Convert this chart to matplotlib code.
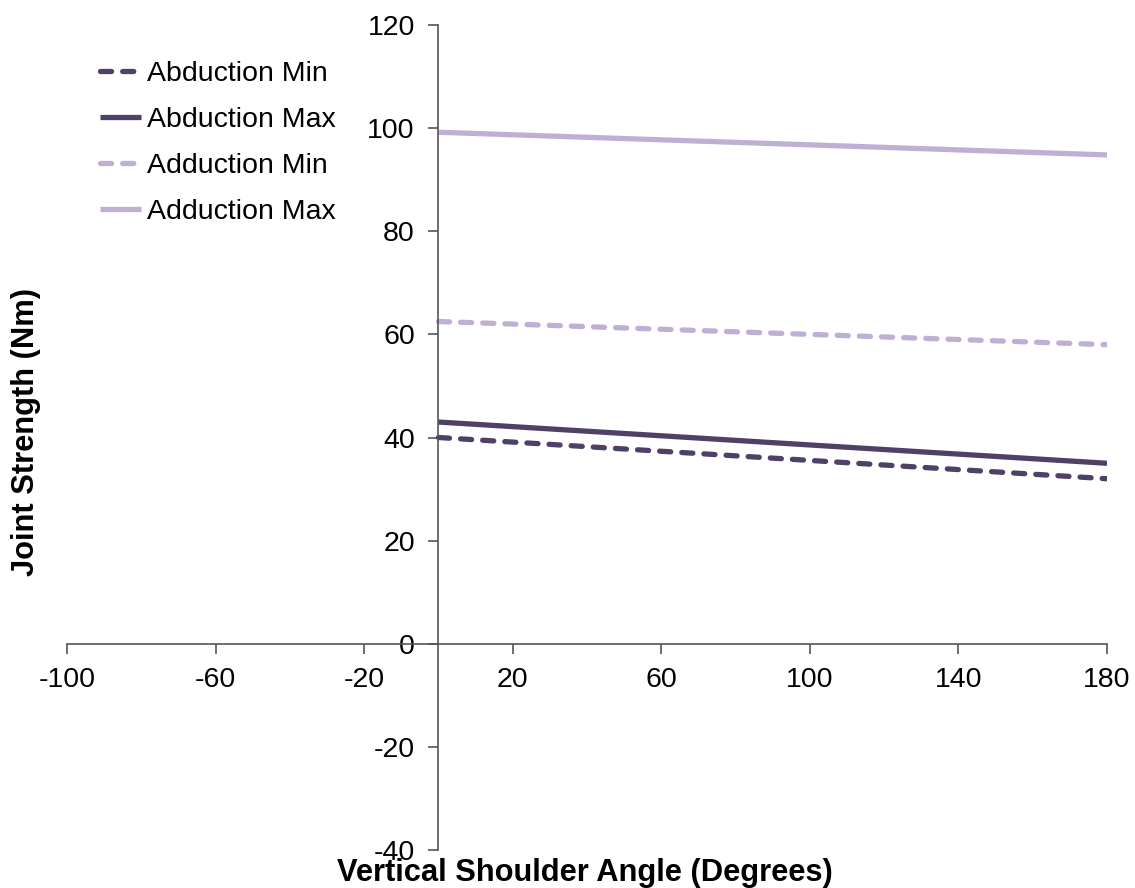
import matplotlib
matplotlib.use("Agg")
import matplotlib.pyplot as plt

plt.rcParams['font.family'] = ['Liberation Sans', 'DejaVu Sans']
plt.rcParams['axes.unicode_minus'] = False

# Joint strength vs vertical shoulder angle
angles = [0, 180]
abduction_min = [40.0, 32.0]
abduction_max = [43.0, 35.0]
adduction_min = [62.5, 58.0]
adduction_max = [99.2, 94.8]

x_ticks = [-100, -60, -20, 20, 60, 100, 140, 180]
y_ticks = [-40, -20, 0, 20, 40, 60, 80, 100, 120]

dark = '#4F4068'
light = '#C0AFD4'

fig = plt.figure(figsize=(11.35, 8.88), dpi=100)
ax = fig.add_axes([67 / 1135, 1 - 850 / 888, (1107 - 67) / 1135, (850 - 25) / 888])

lw = 3.8
ax.plot(angles, abduction_min, color=dark, lw=lw, dashes=[2.1, 2.1],
        dash_capstyle='round', label='Abduction Min')
ax.plot(angles, abduction_max, color=dark, lw=lw, solid_capstyle='butt',
        label='Abduction Max')
ax.plot(angles, adduction_min, color=light, lw=lw, dashes=[2.1, 2.1],
        dash_capstyle='round', label='Adduction Min')
ax.plot(angles, adduction_max, color=light, lw=lw, solid_capstyle='butt',
        label='Adduction Max')

ax.set_xlim(-100, 180)
ax.set_ylim(-40, 120)
ax.set_xticks(x_ticks)
ax.set_yticks(y_ticks)

ax.spines['left'].set_position(('data', 0))
ax.spines['bottom'].set_position(('data', 0))
ax.spines['top'].set_visible(False)
ax.spines['right'].set_visible(False)
for s in ('left', 'bottom'):
    ax.spines[s].set_color('#555555')
    ax.spines[s].set_linewidth(1.2)

ax.tick_params(axis='both', direction='out', length=7, width=1.2,
               color='#555555', labelsize=20.5)
ax.tick_params(axis='y', pad=10)
ax.tick_params(axis='x', pad=10)

ax.legend(loc='upper left', bbox_to_anchor=(100 / 1135, 1 - 61 / 888),
          bbox_transform=fig.transFigure, frameon=False, fontsize=20.5,
          handlelength=1.45, handletextpad=0.2, labelspacing=0.7,
          borderpad=0, borderaxespad=0)

fig.text(585 / 1135, 1 - 873 / 888, 'Vertical Shoulder Angle (Degrees)',
         ha='center', va='center', fontsize=22.2, fontweight='bold')
fig.text(26 / 1135, 1 - 432 / 888, 'Joint Strength (Nm)', rotation=90,
         ha='center', va='center', fontsize=22.2, fontweight='bold')

fig.savefig('out.png', dpi=100)
